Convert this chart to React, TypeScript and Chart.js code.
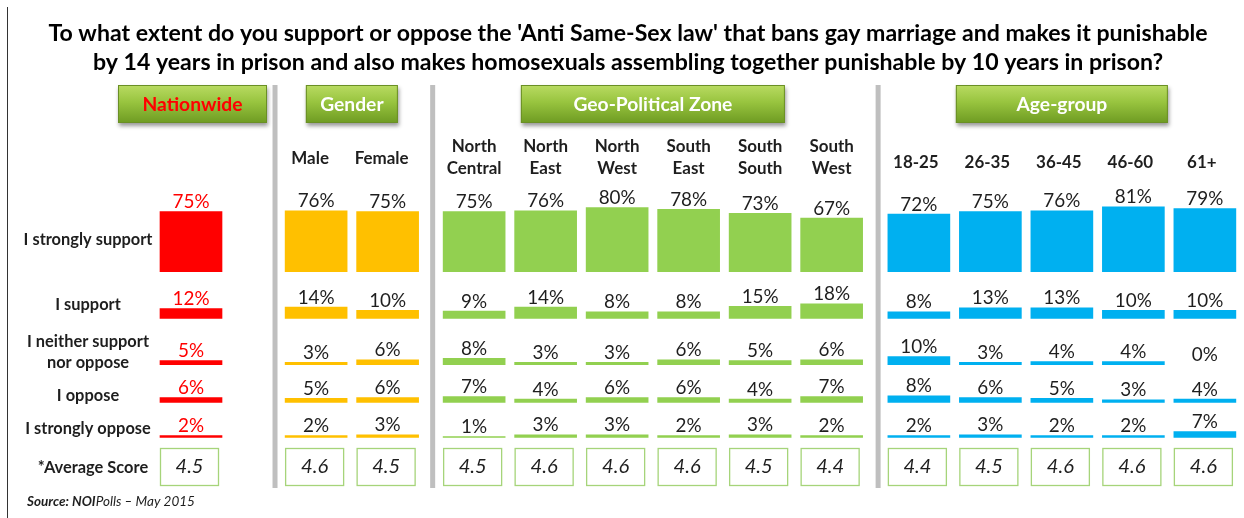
import React, { useEffect, useRef } from "react";
import { Chart, registerables } from "chart.js";

Chart.register(...registerables);

// ---------------- data ----------------
const titleLines = [
  "To what extent do you support or oppose the 'Anti Same-Sex law' that bans gay marriage and makes it punishable",
  "by 14 years in prison and also makes homosexuals assembling together punishable by 10 years in prison?",
];
const groups = ["Nationwide", "Gender", "Geo-Political Zone", "Age-group"];
const groupSizes = [1, 2, 6, 5];
const columnLabels: string[][] = [
  [],
  ["Male"],
  ["Female"],
  ["North", "Central"],
  ["North", "East"],
  ["North", "West"],
  ["South", "East"],
  ["South", "South"],
  ["South", "West"],
  ["18-25"],
  ["26-35"],
  ["36-45"],
  ["46-60"],
  ["61+"],
];
const responses = [
  ["I strongly support"],
  ["I support"],
  ["I neither support", "nor oppose"],
  ["I oppose"],
  ["I strongly oppose"],
];
const stronglySupport = [75, 76, 75, 75, 76, 80, 78, 73, 67, 72, 75, 76, 81, 79];
const support = [12, 14, 10, 9, 14, 8, 8, 15, 18, 8, 13, 13, 10, 10];
const neither = [5, 3, 6, 8, 3, 3, 6, 5, 6, 10, 3, 4, 4, 0];
const oppose = [6, 5, 6, 7, 4, 6, 6, 4, 7, 8, 6, 5, 3, 4];
const stronglyOppose = [2, 2, 3, 1, 3, 3, 2, 3, 2, 2, 3, 2, 2, 7];
const averageScore = [4.5, 4.6, 4.5, 4.5, 4.6, 4.6, 4.6, 4.5, 4.4, 4.4, 4.5, 4.6, 4.6, 4.6];
const averageLabel = "*Average Score";
const sourceBold = "Source: NOI";
const sourceRest = "Polls \u2013 May 2015";

// ---------------- styles / layout ----------------
const groupColors = ["#FF0000", "#FFC000", "#92D050", "#00B0F0"];
const W = 1244;
const H = 518;
const SLOT_PX = 71.5;
const FIRST_COL_PX = 191;
const PX_PER_PCT = 0.8;
const groupGaps = [0, 0.75, 0.21, 0.22];
const rowBaselinePx = [271.7, 318.3, 364.7, 402.3, 437.3];
const rowLabelY = [[240], [305], [341.5, 362.5], [396], [428.5]];
const separatorSlots = [1.175, 3.38, 9.61];
const headerBoxWidths = [149, 92, 264, 212];
const FONT = "Lato, 'Open Sans', sans-serif";
const TEXT = "#1e1e1e";

const allRows = [stronglySupport, support, neither, oppose, stronglyOppose];

function columnSlots(): number[] {
  const out: number[] = [];
  let idx = 0;
  let extra = 0;
  groupSizes.forEach((n, g) => {
    extra += groupGaps[g];
    for (let k = 0; k < n; k++) {
      out.push(idx + extra);
      idx++;
    }
  });
  return out;
}
const slots = columnSlots();
const colGroup: number[] = groupSizes.flatMap((n, g) => Array(n).fill(g));
const baseVal = rowBaselinePx.map((p) => (H - p) / PX_PER_PCT);

function fitSize(ctx: CanvasRenderingContext2D, text: string, style: string, target: number) {
  ctx.font = `${style} 100px ${FONT}`;
  return (100 * target) / ctx.measureText(text).width;
}

const overlay = {
  id: "overlay",
  afterDraw(chart: any) {
    const ctx: CanvasRenderingContext2D = chart.ctx;
    const xs = chart.scales.x;
    const px = (i: number) => xs.getPixelForValue(slots[i]);
    ctx.save();

    // frame line on the left
    ctx.strokeStyle = "#333";
    ctx.lineWidth = 1;
    ctx.beginPath();
    ctx.moveTo(7.5, 7);
    ctx.lineTo(7.5, H);
    ctx.stroke();

    // title
    const tSize = fitSize(ctx, titleLines[0], "bold", 1160);
    ctx.font = `bold ${tSize}px ${FONT}`;
    ctx.fillStyle = "#000";
    ctx.textAlign = "center";
    ctx.textBaseline = "middle";
    ctx.fillText(titleLines[0], 628, 34);
    ctx.fillText(titleLines[1], 628, 63);

    // separators
    ctx.fillStyle = "#BFBFBF";
    separatorSlots.forEach((s) => {
      const x = xs.getPixelForValue(s);
      ctx.fillRect(x - 2.5, 85, 5, 403);
    });

    // header boxes
    const hSize = fitSize(ctx, groups[0], "bold", 100);
    let start = 0;
    groupSizes.forEach((n, g) => {
      const cx = (px(start) + px(start + n - 1)) / 2 + (g === 0 ? 1.5 : 0);
      start += n;
      const w = headerBoxWidths[g];
      const x0 = cx - w / 2;
      const y0 = 85;
      const h = 38;
      ctx.save();
      ctx.shadowColor = "rgba(0,0,0,0.4)";
      ctx.shadowBlur = 4;
      ctx.shadowOffsetX = 1;
      ctx.shadowOffsetY = 3;
      const grad = ctx.createLinearGradient(0, y0, 0, y0 + h);
      grad.addColorStop(0, "#B9DB62");
      grad.addColorStop(0.45, "#98C43F");
      grad.addColorStop(1, "#6E9B22");
      ctx.fillStyle = grad;
      ctx.fillRect(x0, y0, w, h);
      ctx.restore();
      ctx.strokeStyle = "#6A8F25";
      ctx.lineWidth = 1;
      ctx.strokeRect(x0 + 0.5, y0 + 0.5, w - 1, h - 1);
      ctx.font = `bold ${hSize}px ${FONT}`;
      ctx.textAlign = "center";
      ctx.textBaseline = "middle";
      ctx.fillStyle = g === 0 ? "#FF0000" : "#FFFFFF";
      ctx.fillText(groups[g], cx, y0 + h / 2 + 1);
    });

    // column labels
    const cSize = fitSize(ctx, "Female", "bold", 54);
    ctx.font = `bold ${cSize}px ${FONT}`;
    ctx.fillStyle = TEXT;
    ctx.textAlign = "center";
    ctx.textBaseline = "middle";
    columnLabels.forEach((lines, i) => {
      const g = colGroup[i];
      const x = px(i) + (g === 3 ? -3 : g === 2 ? 0 : -6);
      if (lines.length === 2) {
        ctx.fillText(lines[0], x, 147);
        ctx.fillText(lines[1], x, 168.5);
      } else if (lines.length === 1) {
        ctx.fillText(lines[0], x, g === 3 ? 163 : 159);
      }
    });

    // row labels
    const rSize = fitSize(ctx, responses[0][0], "bold", 129);
    ctx.font = `bold ${rSize}px ${FONT}`;
    responses.forEach((lines, r) => {
      lines.forEach((t, k) => ctx.fillText(t, 88, rowLabelY[r][k]));
    });
    ctx.fillText(averageLabel, 93, 467.5);

    // value labels
    const vSize = fitSize(ctx, "75%", "normal", 37);
    ctx.font = `${vSize}px ${FONT}`;
    ctx.textBaseline = "alphabetic";
    chart.data.datasets.forEach((ds: any, d: number) => {
      const meta = chart.getDatasetMeta(d);
      meta.data.forEach((el: any, i: number) => {
        const top = Math.min(el.y, el.base);
        ctx.fillStyle = colGroup[i] === 0 ? "#FF0000" : TEXT;
        ctx.fillText(`${allRows[d][i]}%`, el.x, top - 3.5);
      });
    });

    // average score boxes
    const aSize = fitSize(ctx, "4.5", "italic", 28);
    averageScore.forEach((v, i) => {
      const cx = px(i) - 1.5;
      ctx.strokeStyle = "#A6D47A";
      ctx.lineWidth = 1.3;
      ctx.strokeRect(cx - 29, 448.5, 58, 37);
      ctx.font = `italic ${aSize}px ${FONT}`;
      ctx.fillStyle = TEXT;
      ctx.textAlign = "center";
      ctx.textBaseline = "middle";
      ctx.fillText(v.toFixed(1), cx, 467);
    });

    // source
    ctx.font = `italic bold 100px ${FONT}`;
    const wb = ctx.measureText(sourceBold).width;
    ctx.font = `italic 100px ${FONT}`;
    const wr = ctx.measureText(sourceRest).width;
    const sSize = (100 * 168) / (wb + wr);
    ctx.textAlign = "left";
    ctx.textBaseline = "middle";
    ctx.fillStyle = TEXT;
    ctx.font = `italic bold ${sSize}px ${FONT}`;
    ctx.fillText(sourceBold, 27, 502);
    const off = ctx.measureText(sourceBold).width;
    ctx.font = `italic ${sSize}px ${FONT}`;
    ctx.fillText(sourceRest, 27 + off, 502);

    ctx.restore();
  },
};

export default function App() {
  const ref = useRef<HTMLCanvasElement>(null);
  useEffect(() => {
    document.body.style.margin = "0";
    const chart = new Chart(ref.current as HTMLCanvasElement, {
      type: "bar",
      data: {
        datasets: allRows.map((vals, r) => ({
          label: responses[r].join(" "),
          data: vals.map((v, i) => ({ x: slots[i], y: [baseVal[r], baseVal[r] + v] })),
          backgroundColor: vals.map((v, i) => (v === 0 ? "rgba(0,0,0,0)" : groupColors[colGroup[i]])),
          borderWidth: 0,
          barThickness: 62,
          grouped: false,
        })),
      } as any,
      options: {
        responsive: false,
        animation: false,
        layout: { padding: 0 },
        plugins: { legend: { display: false }, tooltip: { enabled: false }, title: { display: false } },
        scales: {
          x: {
            type: "linear",
            display: false,
            offset: false,
            min: -FIRST_COL_PX / SLOT_PX,
            max: (W - FIRST_COL_PX) / SLOT_PX,
          },
          y: { type: "linear", display: false, min: 0, max: H / PX_PER_PCT },
        },
      } as any,
      plugins: [overlay],
    });
    return () => chart.destroy();
  }, []);
  return <canvas ref={ref} width={W} height={H} style={{ display: "block" }} />;
}
